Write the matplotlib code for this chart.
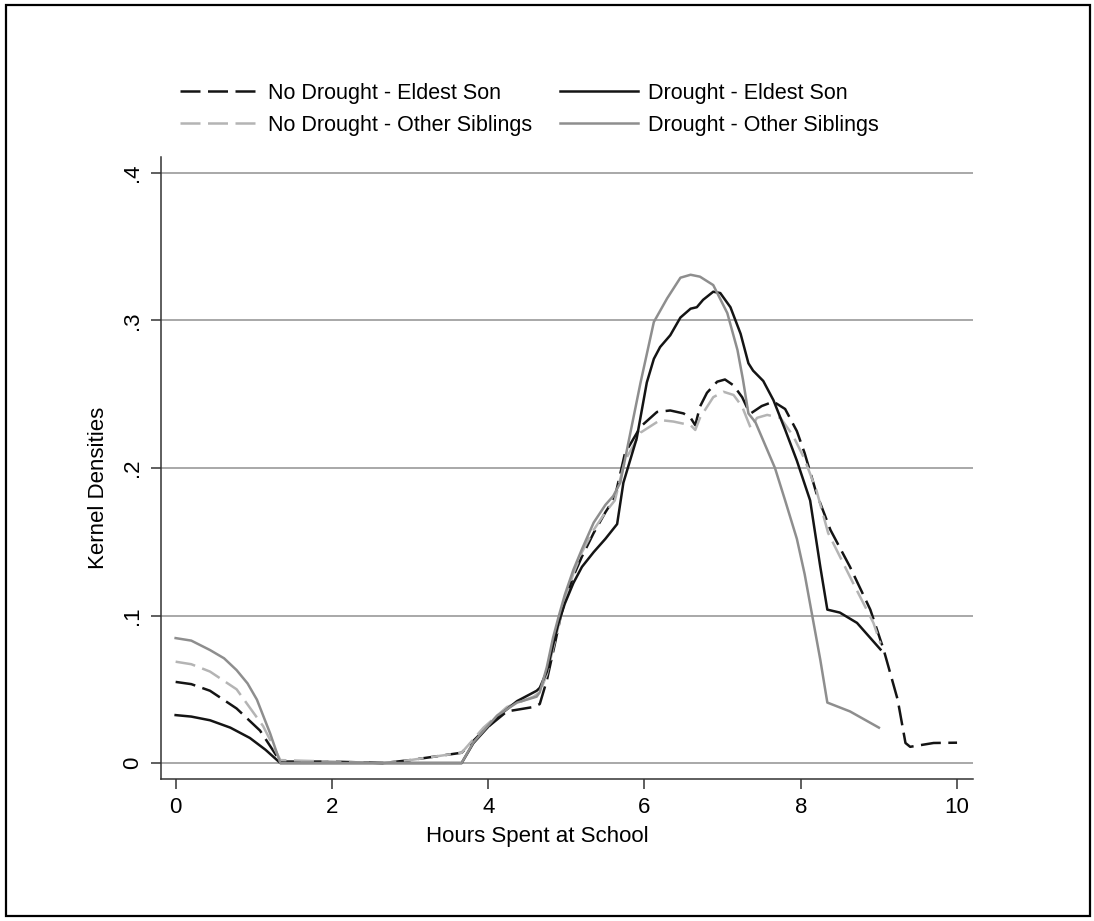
import matplotlib
matplotlib.use("Agg")
import matplotlib.pyplot as plt
from matplotlib.patches import Rectangle
from matplotlib.lines import Line2D

plt.rcParams['font.family'] = ['Liberation Sans Narrow', 'Liberation Sans', 'DejaVu Sans']

# Drought - Eldest Son (black solid)
x_dr_es = [0, 0.2, 0.44, 0.7, 0.95, 1.15, 1.34, 2.0, 3.0, 3.66, 3.81, 4.11, 4.37, 4.62, 4.66,
           4.75, 4.83, 4.9, 4.98, 5.09, 5.2, 5.35, 5.5, 5.65, 5.73, 5.9, 6.03, 6.12, 6.2,
           6.33, 6.46, 6.59, 6.67, 6.75, 6.88, 6.97, 7.1, 7.23, 7.33, 7.39, 7.52, 7.65,
           7.8, 7.95, 8.12, 8.25, 8.34, 8.5, 8.72, 9.02]
y_dr_es = [.0325, .0315, .029, .024, .017, .009, 0, 0, 0, 0, .0135, .031, .042, .049, .051,
           .062, .08, .095, .108, .122, .133, .143, .152, .162, .19, .22, .258, .274, .282,
           .29, .302, .308, .309, .314, .3195, .3186, .309, .291, .271, .266, .259, .246,
           .226, .205, .178, .133, .104, .102, .095, .077]

# No Drought - Eldest Son (black dashed)
x_nd_es = [0, 0.2, 0.44, 0.78, 1.08, 1.34, 2.0, 2.66, 3.0, 3.66, 3.94, 4.24, 4.58, 4.66, 4.75,
           4.85, 4.93, 5.0, 5.1, 5.2, 5.35, 5.5, 5.62, 5.75, 5.95, 6.16, 6.33, 6.5, 6.59,
           6.65, 6.71, 6.8, 6.93, 7.03, 7.14, 7.25, 7.33, 7.36, 7.5, 7.65, 7.8, 7.95, 8.05,
           8.2, 8.38, 8.63, 8.89, 9.06, 9.24, 9.34, 9.4, 9.7, 10.0]
y_nd_es = [.055, .0535, .049, .037, .022, .001, .001, 0, .002, .007, .022, .035, .038, .04, .056,
           .08, .1, .113, .128, .14, .156, .17, .18, .21, .228, .238, .239, .237, .234,
           .229, .2416, .251, .2585, .26, .256, .248, .239, .237, .242, .245, .24, .225, .21,
           .183, .158, .133, .104, .077, .043, .0136, .011, .0136, .0138]

# No Drought - Other Siblings (light grey dashed)
x_nd_os = [0, 0.2, 0.44, 0.78, 1.12, 1.34, 2.0, 2.66, 3.0, 3.66, 3.94, 4.24, 4.58, 4.66, 4.75,
           4.85, 4.93, 5.0, 5.1, 5.2, 5.35, 5.5, 5.62, 5.75, 5.95, 6.2, 6.37, 6.59, 6.65,
           6.71, 6.88, 7.01, 7.14, 7.25, 7.36, 7.44, 7.57, 7.74, 7.9, 8.04, 8.2, 8.35,
           8.67, 8.93, 9.02]
y_nd_os = [.0687, .067, .062, .05, .025, .002, .001, 0, .002, .007, .024, .038, .045, .048, .06,
           .082, .1, .114, .13, .143, .158, .17, .178, .205, .224, .2325, .2315, .229, .2258,
           .234, .248, .2517, .2495, .2416, .227, .234, .236, .234, .222, .207, .185, .156,
           .122, .095, .081]

# Drought - Other Siblings (grey solid)
x_dr_os = [0, 0.2, 0.44, 0.62, 0.78, 0.92, 1.04, 1.21, 1.34, 2.0, 3.0, 3.66, 3.81, 4.11, 4.37,
           4.62, 4.66, 4.75, 4.83, 4.9, 4.98, 5.09, 5.2, 5.35, 5.5, 5.6, 5.69, 5.82, 5.95,
           6.12, 6.29, 6.46, 6.59, 6.71, 6.88, 7.06, 7.19, 7.26, 7.33, 7.42, 7.67, 7.8,
           7.95, 8.05, 8.15, 8.25, 8.34, 8.63, 9.0]
y_dr_os = [.0847, .083, .0766, .071, .063, .054, .043, .02, 0, 0, 0, 0, .014, .032, .041,
           .045, .048, .065, .085, .099, .114, .131, .145, .163, .175, .181, .19, .224, .258,
           .299, .315, .329, .331, .3297, .324, .305, .28, .26, .237, .231, .2, .178,
           .152, .128, .099, .07, .041, .035, .024]

x_ticks = [0, 2, 4, 6, 8, 10]
y_ticks = [0, .1, .2, .3, .4]
y_ticklabels = ['0', '.1', '.2', '.3', '.4']

black = '#141414'
grey = '#8e8e8e'
light = '#b4b4b4'

fig = plt.figure(figsize=(10.94, 9.21), dpi=100)
ax = fig.add_axes([0.1474, 0.1542, 0.7417, 0.6753])

ax.plot(x_nd_es, y_nd_es, color=black, lw=1.8, dashes=(8, 3))
ax.plot(x_nd_os, y_nd_os, color=light, lw=1.8, dashes=(8, 3))
ax.plot(x_dr_es, y_dr_es, color=black, lw=1.8)
ax.plot(x_dr_os, y_dr_os, color=grey, lw=1.8)

ax.set_xlim(-0.184, 10.2)
ax.set_ylim(-0.0108, 0.4108)
ax.set_xticks(x_ticks)
ax.set_yticks(y_ticks)
ax.set_yticklabels(y_ticklabels)
ax.tick_params(axis='both', labelsize=16, length=7, width=1.1, color='#333333', pad=6)
ax.tick_params(axis='y', labelrotation=90)
for lab in ax.get_yticklabels():
    lab.set_va('center')

ax.yaxis.grid(True, color='#999999', lw=1.2)
ax.set_axisbelow(True)
for s in ['top', 'right']:
    ax.spines[s].set_visible(False)
for s in ['left', 'bottom']:
    ax.spines[s].set_color('#333333')
    ax.spines[s].set_linewidth(1.1)

ax.set_xlabel('Hours Spent at School', fontsize=16)
ax.set_ylabel('Kernel Densities', fontsize=16)
ax.xaxis.set_label_coords(0.463, -0.075)
ax.yaxis.set_label_coords(-0.065, 0.468)

h_nd_es = Line2D([], [], color=black, lw=1.8, dashes=(8, 3))
h_nd_os = Line2D([], [], color=light, lw=1.8, dashes=(8, 3))
h_dr_es = Line2D([], [], color=black, lw=1.8)
h_dr_os = Line2D([], [], color=grey, lw=1.8)

leg_kw = dict(frameon=False, fontsize=15.5, handlelength=3.6, handletextpad=0.5,
              labelspacing=0.5, borderpad=0, borderaxespad=0, loc='upper left')
fig.legend([h_nd_es, h_nd_os], ['No Drought - Eldest Son', 'No Drought - Other Siblings'],
           bbox_to_anchor=(0.1645, 0.91), **leg_kw)
fig.legend([h_dr_es, h_dr_os], ['Drought - Eldest Son', 'Drought - Other Siblings'],
           bbox_to_anchor=(0.512, 0.91), **leg_kw)

fig.patches.append(Rectangle((6 / 1094, 5 / 921), 1084 / 1094, 911 / 921,
                             transform=fig.transFigure, fill=False, lw=1.6, ec='black'))

fig.savefig('out.png', dpi=100)
